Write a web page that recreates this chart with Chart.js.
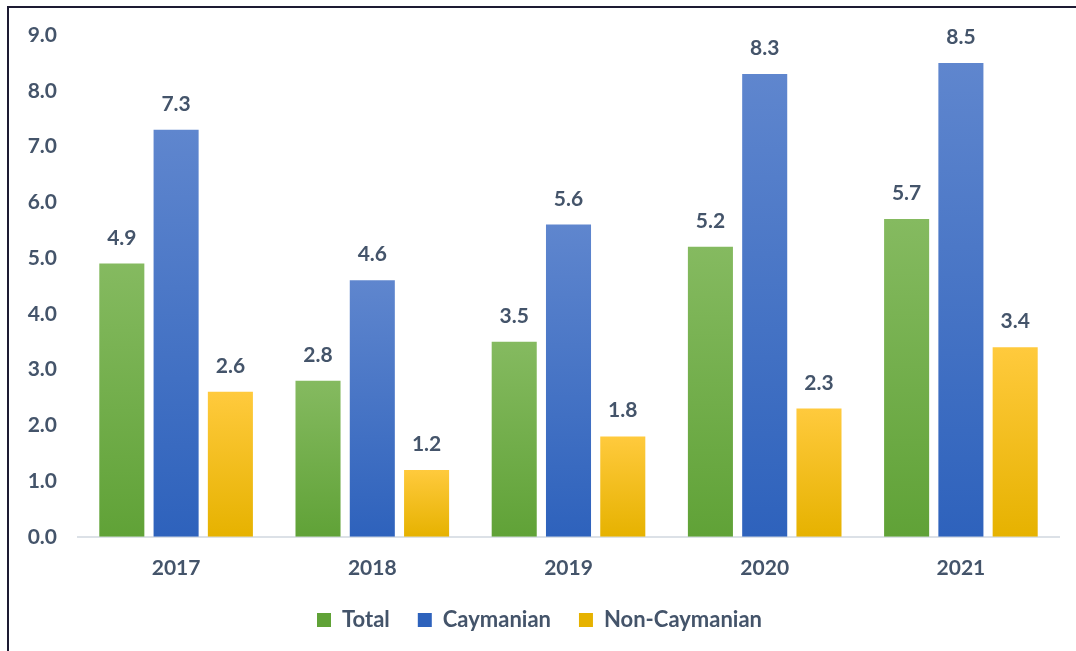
<!DOCTYPE html>
<html>
<head>
<meta charset="utf-8">
<script src="https://cdn.jsdelivr.net/npm/chart.js@4.4.1/dist/chart.umd.min.js"></script>
<style>
  html, body { margin: 0; padding: 0; background: #fff; overflow: hidden; }
  #wrap { position: relative; width: 1076px; height: 651px; }
  #frame { position: absolute; left: 7px; top: 6px; right: -4px; bottom: -4px;
           border-left: 2px solid #1d1b33; border-top: 2px solid #1d1b33; pointer-events: none; }
  canvas { position: absolute; left: 0; top: 0; }
</style>
</head>
<body>
<div id="wrap">
  <canvas id="c" width="1076" height="651"></canvas>
  <div id="frame"></div>
</div>
<script>
// Years on the x axis
const years = ['2017', '2018', '2019', '2020', '2021'];

// Series values
const totalValues = [4.9, 2.8, 3.5, 5.2, 5.7];
const caymanianValues = [7.3, 4.6, 5.6, 8.3, 8.5];
const nonCaymanianValues = [2.6, 1.2, 1.8, 2.3, 3.4];

// Y axis range / step
const yMin = 0;
const yMax = 9;
const yStep = 1;

const TEXT = '#44546A';
const FONT = 'Lato, "Open Sans", sans-serif';

// Vertical gradient for each bar, from its top down to the baseline
function barFill(topColor, bottomColor, flat) {
  return (ctx) => {
    const chart = ctx.chart;
    if (!chart.chartArea || ctx.type !== 'data') return flat;
    const y = chart.scales.y;
    const yTop = y.getPixelForValue(ctx.raw);
    const yBot = y.getPixelForValue(0);
    const g = chart.ctx.createLinearGradient(0, yTop, 0, yBot);
    g.addColorStop(0, topColor);
    g.addColorStop(1, bottomColor);
    return g;
  };
}

// Value labels above every bar
const valueLabels = {
  id: 'valueLabels',
  afterDatasetsDraw(chart) {
    const c = chart.ctx;
    c.save();
    c.font = 'bold 21px ' + FONT;
    c.fillStyle = TEXT;
    c.textAlign = 'center';
    c.textBaseline = 'alphabetic';
    chart.data.datasets.forEach((ds, i) => {
      chart.getDatasetMeta(i).data.forEach((bar, j) => {
        c.fillText(ds.data[j].toFixed(1), bar.x, bar.y - 19);
      });
    });
    c.restore();
  }
};

new Chart(document.getElementById('c'), {
  type: 'bar',
  data: {
    labels: years,
    datasets: [
      { label: 'Total', data: totalValues,
        backgroundColor: barFill('#85BA60', '#60A237', '#70AD47') },
      { label: 'Caymanian', data: caymanianValues,
        backgroundColor: barFill('#5F86CE', '#2E62BC', '#4472C4') },
      { label: 'Non-Caymanian', data: nonCaymanianValues,
        backgroundColor: barFill('#FFCA3D', '#E6B200', '#FFC000') }
    ]
  },
  options: {
    responsive: false,
    animation: false,
    devicePixelRatio: 1,
    categoryPercentage: 0.83,
    barPercentage: 0.83,
    layout: { padding: { left: 20, right: 17, top: 35, bottom: 10 } },
    scales: {
      x: {
        grid: { display: false, drawTicks: false },
        border: { display: true, color: '#DCE1E7', width: 2 },
        ticks: { color: TEXT, font: { family: FONT, size: 21, weight: 'bold' }, padding: 19 },
        afterFit: (s) => { s.height -= 19; }
      },
      y: {
        min: yMin, max: yMax,
        grid: { display: false, drawTicks: false },
        border: { display: false },
        ticks: {
          stepSize: yStep, color: TEXT, padding: 21,
          font: { family: FONT, size: 21, weight: 'bold' },
          callback: (v) => Number(v).toFixed(1)
        },
        afterFit: (s) => { s.width = 58; }
      }
    },
    plugins: {
      tooltip: { enabled: false },
      legend: {
        position: 'bottom',
        labels: {
          boxWidth: 14, boxHeight: 14, padding: 28,
          color: TEXT,
          font: { family: FONT, size: 22, weight: 'bold' }
        }
      }
    }
  },
  plugins: [valueLabels]
});
</script>
</body>
</html>
